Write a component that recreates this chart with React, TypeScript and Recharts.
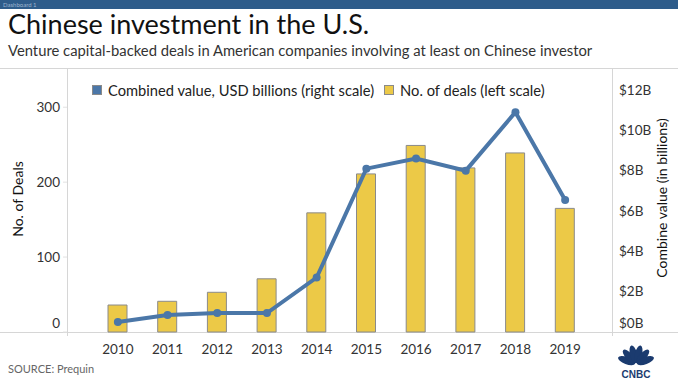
import { ComposedChart, Bar, Line, XAxis, YAxis, Legend } from 'recharts';

const years = ['2010', '2011', '2012', '2013', '2014', '2015', '2016', '2017', '2018', '2019'];
const deals = [36, 41, 53, 71, 159, 211, 249, 219, 239, 165];
const valueBn = [0.5, 0.84, 0.94, 0.94, 2.7, 8.1, 8.6, 8.0, 10.9, 6.55];
const leftTicks = [0, 100, 200, 300];
const rightTicks = [0, 2, 4, 6, 8, 10, 12];

const data = years.map((year, i) => ({ year, deals: deals[i], value: valueBn[i] }));

const BLUE = '#4b77a8';
const GOLD = '#ecc947';
const FONT = 'Lato, "Open Sans", sans-serif';
const INK = '#333';

function EdgeTick(props: any) {
  const { x, y, payload, textAnchor, fmt } = props;
  // Tableau nudges the zero label up off the baseline
  const shift = payload.value === 0 ? -9 : 0;
  return (
    <text x={x} y={y + shift} dy="0.35em" textAnchor={textAnchor} fill={INK} fontSize={13.5} fontFamily={FONT}>
      {fmt ? fmt(payload.value) : payload.value}
    </text>
  );
}

function LegendContent(props: any) {
  const items = [...(props.payload || [])].sort((a: any) => (a.type === 'line' ? -1 : 1));
  return (
    <div style={{ display: 'flex', alignItems: 'center', fontFamily: FONT, fontSize: 14.7, color: '#222', whiteSpace: 'nowrap' }}>
      {items.map((it: any) => (
        <div key={it.value} style={{ display: 'flex', alignItems: 'center', marginRight: 10 }}>
          <span
            style={{
              width: 10,
              height: 10,
              background: it.type === 'line' ? BLUE : GOLD,
              border: '1px solid #8a8a8a',
              boxSizing: 'border-box',
              marginRight: 6,
            }}
          />
          {it.value}
        </div>
      ))}
    </div>
  );
}

export default function App() {
  return (
    <div style={{ position: 'absolute', left: 0, top: 0, width: 678, height: 381, background: '#fff', overflow: 'hidden' }}>
      <div style={{ position: 'absolute', left: 0, top: 0, width: 678, height: 9, background: '#2e5c8a' }}>
        <span style={{ position: 'absolute', left: 3, top: 1, fontSize: 6, color: '#9fb6cf', fontFamily: FONT, lineHeight: '7px' }}>
          Dashboard 1
        </span>
      </div>
      <div style={{ position: 'absolute', left: 8, top: 7, fontFamily: FONT, fontSize: 27, color: '#111', whiteSpace: 'nowrap' }}>
        Chinese investment in the U.S.
      </div>
      <div style={{ position: 'absolute', left: 8, top: 41, fontFamily: FONT, fontSize: 14.8, color: INK, whiteSpace: 'nowrap' }}>
        Venture capital-backed deals in American companies involving at least on Chinese investor
      </div>

      {/* frame lines */}
      <div style={{ position: 'absolute', left: 0, top: 68, width: 678, height: 1, background: '#d6d6d6' }} />
      <div style={{ position: 'absolute', left: 0, top: 332, width: 678, height: 1, background: '#d6d6d6' }} />
      <div style={{ position: 'absolute', left: 67, top: 68, width: 1, height: 268, background: '#d6d6d6' }} />
      <div style={{ position: 'absolute', left: 612, top: 68, width: 1, height: 268, background: '#d6d6d6' }} />

      <div style={{ position: 'absolute', left: 0, top: 0 }}>
        <ComposedChart width={678} height={381} data={data} margin={{ top: 90, right: 0, bottom: 0, left: 0 }}>
          <XAxis
            dataKey="year"
            height={49}
            padding={{ left: 26, right: 22 }}
            axisLine={false}
            tickLine={false}
            tickMargin={6}
            tick={{ fill: INK, fontSize: 13.5, fontFamily: FONT }}
          />
          <YAxis
            yAxisId="left"
            orientation="left"
            width={67}
            domain={[0, 323]}
            ticks={leftTicks}
            axisLine={false}
            tickLine={{ stroke: '#e2e2e2' }}
            tickSize={4}
            tickMargin={3}
            tick={<EdgeTick />}
          />
          <YAxis
            yAxisId="right"
            orientation="right"
            width={66}
            domain={[0, 12]}
            ticks={rightTicks}
            axisLine={false}
            tickLine={false}
            tickSize={0}
            tickMargin={7}
            tick={<EdgeTick fmt={(v: number) => `$${v}B`} />}
          />
          <Legend
            verticalAlign="middle"
            align="center"
            layout="horizontal"
            wrapperStyle={{ position: 'absolute', left: 92, top: 81, width: 'auto', height: 'auto' }}
            content={<LegendContent />}
          />
          <Bar
            yAxisId="left"
            dataKey="deals"
            name="No. of deals (left scale)"
            fill={GOLD}
            stroke="#8a8a8a"
            strokeWidth={1}
            barSize={19}
            isAnimationActive={false}
          />
          <Line
            yAxisId="right"
            dataKey="value"
            name="Combined value, USD billions (right scale)"
            stroke={BLUE}
            strokeWidth={4}
            dot={{ r: 4, fill: BLUE, stroke: BLUE, strokeWidth: 0 }}
            isAnimationActive={false}
          />
        </ComposedChart>
      </div>

      <div
        style={{
          position: 'absolute',
          left: 17,
          top: 199,
          transform: 'translate(-50%, -50%) rotate(-90deg)',
          fontFamily: FONT,
          fontSize: 14,
          color: '#111',
          whiteSpace: 'nowrap',
        }}
      >
        No. of Deals
      </div>
      <div
        style={{
          position: 'absolute',
          left: 661,
          top: 198,
          transform: 'translate(-50%, -50%) rotate(-90deg)',
          fontFamily: FONT,
          fontSize: 14,
          color: '#111',
          whiteSpace: 'nowrap',
        }}
      >
        Combine value (in billions)
      </div>

      <div style={{ position: 'absolute', left: 8, top: 362, fontFamily: FONT, fontSize: 11, color: '#666' }}>SOURCE: Prequin</div>

      <svg style={{ position: 'absolute', left: 618, top: 342 }} width={36} height={38}>
        {[-70, -42, -14, 14, 42, 70].map((a) => (
          <ellipse key={a} cx={18} cy={12} rx={3.6} ry={9} fill="#1b3b6f" transform={`rotate(${a} 18 22)`} />
        ))}
        <text x={18} y={36} textAnchor="middle" fontFamily="Arial, sans-serif" fontWeight="bold" fontSize={10} fill="#1b3b6f">
          CNBC
        </text>
      </svg>
    </div>
  );
}
